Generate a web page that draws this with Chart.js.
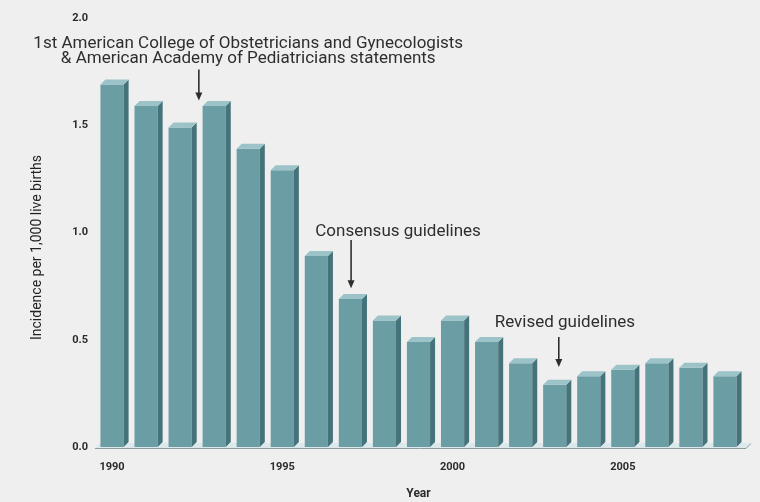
<!DOCTYPE html>
<html>
<head>
<meta charset="utf-8">
<script src="https://cdn.jsdelivr.net/npm/chart.js@4.4.1/dist/chart.umd.min.js"></script>
<style>
  html, body { margin: 0; padding: 0; background: #efefef; }
  #wrap { width: 760px; height: 502px; position: relative; }
</style>
</head>
<body>
<div id="wrap"><canvas id="c"></canvas></div>
<script>
// ---- data ----
const years = ["1990","1991","1992","1993","1994","1995","1996","1997","1998","1999",
               "2000","2001","2002","2003","2004","2005","2006","2007","2008"];
const incidence = [1.69, 1.59, 1.49, 1.59, 1.39, 1.29, 0.89, 0.69, 0.59, 0.49,
                   0.59, 0.49, 0.39, 0.29, 0.33, 0.36, 0.39, 0.37, 0.33];
const yTicks = [0, 0.5, 1.0, 1.5, 2.0];
const xTickYears = ["1990", "1995", "2000", "2005"];
const yTitle = "Incidence per 1,000 live births";
const annotationTexts = [
  ["1st American College of Obstetricians and Gynecologists", "& American Academy of Pediatricians statements"],
  ["Consensus guidelines"],
  ["Revised guidelines"]
];

// ---- styling / placement (not data) ----
const FONT = "Roboto, 'Liberation Sans', sans-serif";
const DEPTH = 5;
const FRONT = '#6b9da5', SIDE = '#45737a', TOP = '#9cc3c8';

// annotation anchors in scale space: x index, text y value, arrow from/to values
const annPlacement = [
  { textX: 4.0, textY: 1.878, lineGap: 15, arrowX: 2.55, arrowFrom: 1.76, arrowTo: 1.615 },
  { textX: 8.4, textY: 1.005, lineGap: 15, arrowX: 7.02, arrowFrom: 0.965, arrowTo: 0.74 },
  { textX: 13.3, textY: 0.578, lineGap: 15, arrowX: 13.12, arrowFrom: 0.513, arrowTo: 0.373 }
];
const yTitlePlace = { x: 37, value: 0.93 };

const threeD = {
  id: 'threeD',
  beforeDatasetsDraw(chart) {
    const { ctx, chartArea, scales } = chart;
    const y0 = scales.y.getPixelForValue(0);
    ctx.save();
    ctx.fillStyle = '#dce9ec';
    ctx.beginPath();
    ctx.moveTo(chartArea.left, y0 + 1);
    ctx.lineTo(chartArea.left + DEPTH, y0 - DEPTH + 1);
    ctx.lineTo(chartArea.right + DEPTH + 4, y0 - DEPTH + 1);
    ctx.lineTo(chartArea.right + 4, y0 + 1);
    ctx.closePath();
    ctx.fill();
    ctx.strokeStyle = '#8c9c9f';
    ctx.lineWidth = 1;
    ctx.beginPath();
    ctx.moveTo(chartArea.left, y0 + 1.5);
    ctx.lineTo(chartArea.right + 4, y0 + 1.5);
    ctx.lineTo(chartArea.right + DEPTH + 4, y0 - DEPTH + 1.5);
    ctx.stroke();
    ctx.restore();
  },
  afterDatasetsDraw(chart) {
    const { ctx } = chart;
    const meta = chart.getDatasetMeta(0);
    ctx.save();
    meta.data.forEach(el => {
      const { x, y, base, width } = el.getProps(['x', 'y', 'base', 'width'], true);
      const l = x - width / 2, r = x + width / 2;
      ctx.fillStyle = SIDE;
      ctx.beginPath();
      ctx.moveTo(r, y);
      ctx.lineTo(r + DEPTH, y - DEPTH);
      ctx.lineTo(r + DEPTH, base - DEPTH);
      ctx.lineTo(r, base);
      ctx.closePath();
      ctx.fill();
      ctx.fillStyle = TOP;
      ctx.beginPath();
      ctx.moveTo(l, y);
      ctx.lineTo(l + DEPTH, y - DEPTH);
      ctx.lineTo(r + DEPTH, y - DEPTH);
      ctx.lineTo(r, y);
      ctx.closePath();
      ctx.fill();
    });
    ctx.restore();
  },
  afterDraw(chart) {
    const { ctx, scales } = chart;
    ctx.save();
    ctx.fillStyle = '#2e2e2e';
    ctx.strokeStyle = '#222';
    ctx.font = '17px ' + FONT;
    ctx.textAlign = 'center';
    ctx.textBaseline = 'middle';
    annPlacement.forEach((p, i) => {
      const tx = scales.x.getPixelForValue(p.textX);
      const ty = scales.y.getPixelForValue(p.textY);
      annotationTexts[i].forEach((line, k) => ctx.fillText(line, tx, ty + k * p.lineGap));
      const ax = scales.x.getPixelForValue(p.arrowX);
      const a1 = scales.y.getPixelForValue(p.arrowFrom);
      const a2 = scales.y.getPixelForValue(p.arrowTo);
      ctx.lineWidth = 1.5;
      ctx.beginPath();
      ctx.moveTo(ax, a1);
      ctx.lineTo(ax, a2 - 6);
      ctx.stroke();
      ctx.beginPath();
      ctx.moveTo(ax - 3.5, a2 - 8);
      ctx.lineTo(ax + 3.5, a2 - 8);
      ctx.lineTo(ax, a2);
      ctx.closePath();
      ctx.fill();
    });
    // y axis title
    ctx.save();
    ctx.translate(yTitlePlace.x, scales.y.getPixelForValue(yTitlePlace.value));
    ctx.rotate(-Math.PI / 2);
    ctx.font = '14px ' + FONT;
    ctx.fillStyle = '#222';
    ctx.fillText(yTitle, 0, 0);
    ctx.restore();
    ctx.restore();
  }
};

new Chart(document.getElementById('c'), {
  type: 'bar',
  data: {
    labels: years,
    datasets: [{
      data: incidence,
      backgroundColor: FRONT,
      borderWidth: 0,
      barPercentage: 0.68,
      categoryPercentage: 1.0
    }]
  },
  options: {
    responsive: true,
    maintainAspectRatio: false,
    animation: false,
    layout: { padding: { top: 18, right: 18, left: 0, bottom: 0 } },
    plugins: { legend: { display: false }, tooltip: { enabled: false } },
    scales: {
      x: {
        grid: { display: false, drawTicks: false },
        border: { display: false },
        ticks: {
          autoSkip: false, maxRotation: 0, padding: 14, color: '#2b2b2b',
          font: { family: FONT, size: 11, weight: 'bold' },
          callback(v) { const lab = years[v]; return xTickYears.includes(lab) ? lab : ''; }
        },
        title: { display: true, text: 'Year', color: '#2b2b2b', padding: { top: 0, bottom: 1 },
                 font: { family: FONT, size: 12, weight: 'bold' } },
        afterFit(s) { s.height = 55; }
      },
      y: {
        min: 0, max: 2,
        grid: { display: false, drawTicks: false },
        border: { display: false },
        afterBuildTicks(s) { s.ticks = yTicks.map(v => ({ value: v })); },
        ticks: {
          padding: 7, color: '#2b2b2b',
          font: { family: FONT, size: 11, weight: 'bold' },
          callback(v) { return Number(v).toFixed(1); }
        },
        title: { display: false },
        afterFit(s) { s.width = 95; }
      }
    }
  },
  plugins: [threeD]
});
</script>
</body>
</html>
